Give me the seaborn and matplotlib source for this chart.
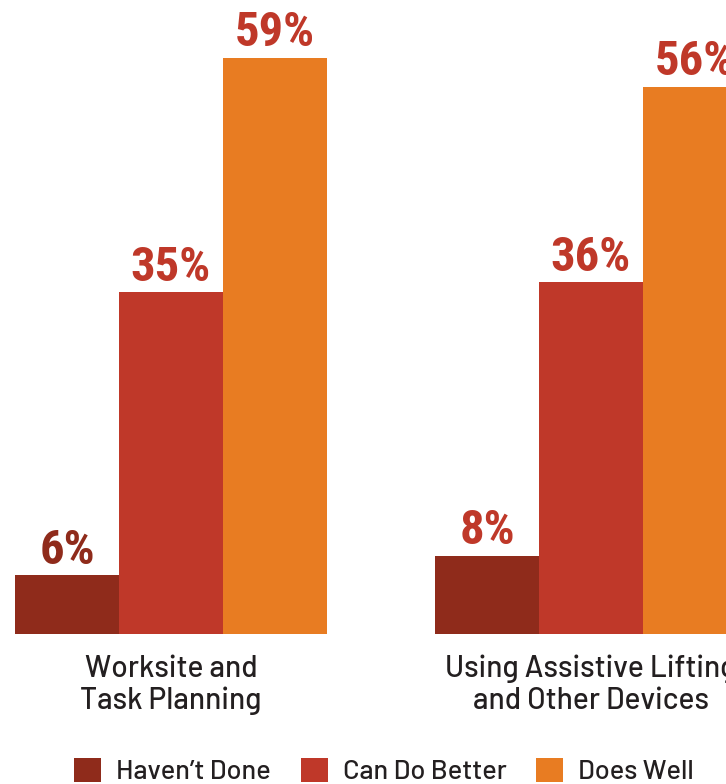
import matplotlib
matplotlib.use("Agg")
import matplotlib.pyplot as plt
import seaborn as sns
import pandas as pd
from matplotlib.patches import Patch

categories = ["Worksite and\nTask Planning", "Using Assistive Lifting\nand Other Devices"]
series = ["Haven\u2019t Done", "Can Do Better", "Does Well"]
havent_done = [6, 8]
can_do_better = [35, 36]
does_well = [59, 56]

bar_colors = ["#8F2B1B", "#BF3829", "#E87C22"]
label_colors = [["#8F2B1B", "#BF3829"], ["#BF3829", "#BF3829"], ["#BF3829", "#BF3829"]]
text_dark = "#231F20"

rows = []
for s, vals in zip(series, [havent_done, can_do_better, does_well]):
    for c, v in zip(categories, vals):
        rows.append({"category": c, "series": s, "value": v})
df = pd.DataFrame(rows)

sns.set_theme(style="white")
plt.rcParams["font.family"] = ["Barlow", "DejaVu Sans"]

W, H = 726, 784
fig = plt.figure(figsize=(W / 100, H / 100), dpi=100)
ax = fig.add_axes([0, 150 / H, 762 / W, 634 / H])

sns.barplot(data=df, x="category", y="value", hue="series", order=categories,
            hue_order=series, palette=bar_colors, width=0.743, gap=0,
            saturation=1, dodge=True, legend=False, linewidth=0, ax=ax)

ax.set_xlim(-171 / 420, (762 - 171) / 420)
ax.set_ylim(0, 634 / 9.77)

for i, cont in enumerate(ax.containers):
    labels = [f"{int(v)}%" for v in cont.datavalues]
    texts = ax.bar_label(cont, labels=labels, padding=1,
                         fontsize=35, fontweight="bold",
                         family=["Roboto Condensed", "DejaVu Sans"])
    for j, t in enumerate(texts):
        t.set_color(label_colors[i][j])

for s in ax.spines.values():
    s.set_visible(False)
ax.set_yticks([])
ax.set_xlabel("")
ax.set_ylabel("")
ax.tick_params(axis="x", length=0, pad=15, labelsize=21.5, labelcolor=text_dark)
for lab in ax.get_xticklabels():
    lab.set_linespacing(1.15)
    lab.set_fontweight(500)

handles = [Patch(facecolor=c, edgecolor="none") for c in bar_colors]
fig.legend(handles, series, loc="center", bbox_to_anchor=(384 / W, 13 / H),
           ncol=3, frameon=False, handlelength=1.0, handleheight=1.0,
           prop={"family": ["Barlow", "DejaVu Sans"], "size": 19.5, "weight": 500},
           handletextpad=0.55, columnspacing=1.1, borderpad=0, labelcolor=text_dark)

fig.savefig("out.png", dpi=100)
